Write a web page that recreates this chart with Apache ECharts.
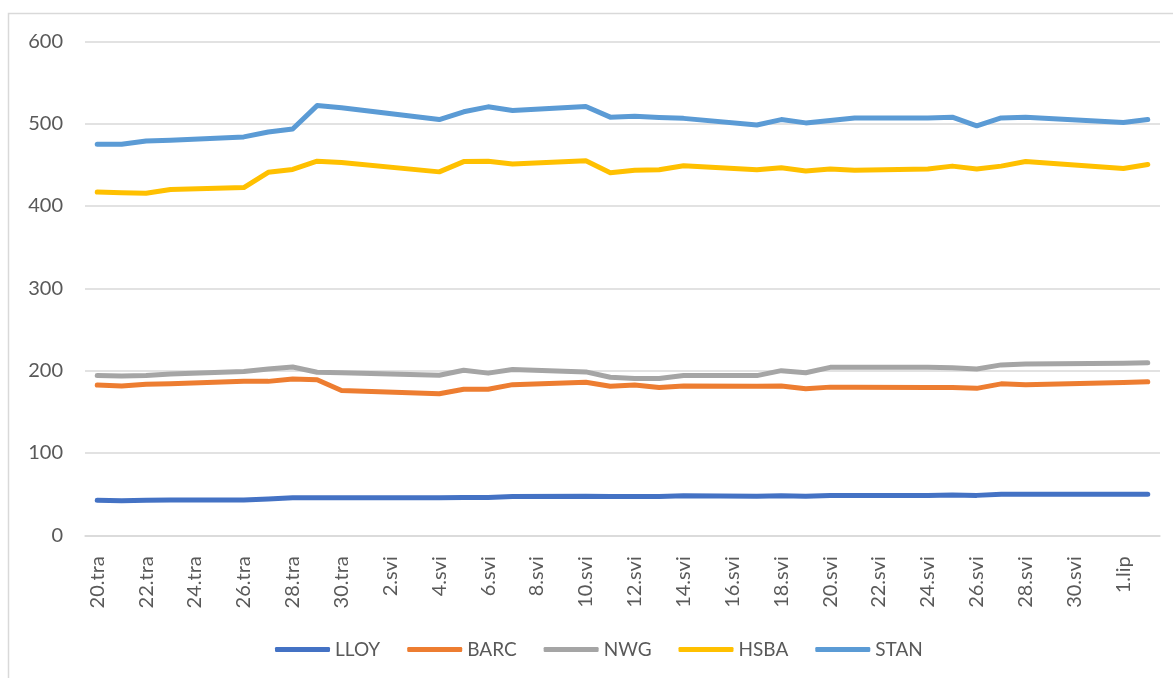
<!DOCTYPE html>
<html>
<head>
<meta charset="utf-8">
<script src="https://cdn.jsdelivr.net/npm/echarts@6/dist/echarts.min.js"></script>
<style>
  html, body { margin: 0; padding: 0; background: #ffffff; }
  #chart { width: 1173px; height: 678px; }
</style>
</head>
<body>
<div id="chart"></div>
<script>
// Dates (calendar days, labels shown every second day)
const categories = [
  "20.tra","21.tra","22.tra","23.tra","24.tra","25.tra","26.tra","27.tra","28.tra","29.tra","30.tra",
  "1.svi","2.svi","3.svi","4.svi","5.svi","6.svi","7.svi","8.svi","9.svi","10.svi",
  "11.svi","12.svi","13.svi","14.svi","15.svi","16.svi","17.svi","18.svi","19.svi","20.svi",
  "21.svi","22.svi","23.svi","24.svi","25.svi","26.svi","27.svi","28.svi","29.svi","30.svi",
  "31.svi","1.lip","2.lip"
];

// null = non-trading day (line connects across it)
const LLOY = [42.5,42,42.5,43,null,null,43,44,45.5,45.5,45.5,
  null,null,null,45.5,46,46,47,null,null,47.5,
  47,47,47,48,null,null,47.5,48,47.5,48.5,
  48.5,null,null,48.5,49,48.5,50,50,null,null,
  null,50,50];
const BARC = [182.5,181.5,183.5,184,null,null,187,187,190,189,176,
  null,null,null,172,177.5,177.5,183,null,null,186,
  181,182.5,179.5,181.5,null,null,181,181.5,178,180,
  180,null,null,179.5,179.5,178.5,184,183,null,null,
  null,185.5,186.5];
const NWG = [194,193.5,194,196,null,null,199,202,204.5,198,197.5,
  null,null,null,194.5,200.5,197,201.5,null,null,198.5,
  192,190.5,190.5,194,null,null,194,200,197.5,204,
  204,null,null,204,203.5,202,207,208,null,null,
  null,209,209.5];
const HSBA = [417,416,415.5,420,null,null,422.5,441,444.5,454.5,453,
  null,null,null,441.5,454,454.5,451,null,null,455,
  440.5,443.5,444,449,null,null,444,446.5,442.5,445,
  443.5,null,null,445,448.5,445,448.5,454,null,null,
  null,445.5,450.5];
const STAN = [475,475,479,480,null,null,484,490,493.5,522,519.5,
  null,null,null,505,514.5,520.5,516,null,null,521,
  508,509,507.5,506.5,null,null,498.5,505,501,504,
  507,null,null,507,508,497.5,507,508,null,null,
  null,501.5,505];

const seriesNames = ["LLOY","BARC","NWG","HSBA","STAN"];
const seriesData = [LLOY, BARC, NWG, HSBA, STAN];
const colors = ["#4472C4","#ED7D31","#A5A5A5","#FFC000","#5B9BD5"];

const FONT = "Lato, 'Open Sans', sans-serif";
const chart = echarts.init(document.getElementById('chart'), null, { renderer: 'canvas' });

chart.setOption({
  animation: false,
  backgroundColor: '#ffffff',
  color: colors,
  textStyle: { fontFamily: FONT },
  graphic: [{
    type: 'rect',
    shape: { x: 8.5, y: 13.5, width: 1300, height: 800 },
    style: { fill: 'none', stroke: '#d9d9d9', lineWidth: 1.5 },
    silent: true
  }],
  grid: { left: 85, right: 13, top: 41.4, bottom: 142.7, containLabel: false },
  legend: {
    left: 270,
    top: 635,
    icon: 'roundRect',
    itemWidth: 55,
    itemHeight: 5,
    itemGap: 27,
    textStyle: { color: '#595959', fontSize: 19, fontFamily: FONT },
    data: seriesNames
  },
  xAxis: {
    type: 'category',
    data: categories,
    boundaryGap: true,
    axisLine: { show: true, lineStyle: { color: '#d9d9d9', width: 1.5 } },
    axisTick: { show: false },
    axisLabel: {
      interval: 1,
      rotate: 90,
      margin: 21,
      color: '#595959',
      fontSize: 20,
      fontFamily: FONT
    },
    splitLine: { show: false }
  },
  yAxis: {
    type: 'value',
    min: 0,
    max: 600,
    interval: 100,
    axisLine: { show: false },
    axisTick: { show: false },
    axisLabel: { color: '#595959', fontSize: 20, margin: 22, fontFamily: FONT },
    splitLine: { show: true, lineStyle: { color: '#d9d9d9', width: 1.5 } }
  },
  series: seriesNames.map((name, i) => ({
    name: name,
    type: 'line',
    data: seriesData[i],
    connectNulls: true,
    symbol: 'none',
    smooth: false,
    lineStyle: { width: 5, color: colors[i], cap: 'round', join: 'round' },
    itemStyle: { color: colors[i] },
    z: 2
  }))
});
</script>
</body>
</html>
